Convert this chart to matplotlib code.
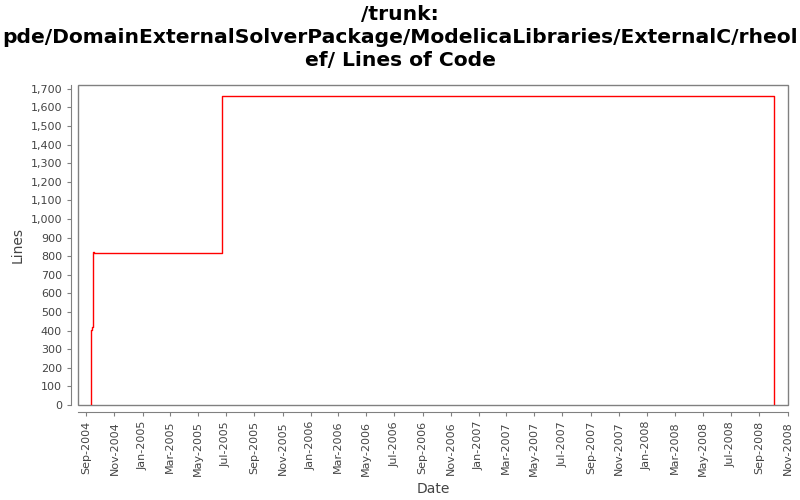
import matplotlib
matplotlib.use("Agg")
import matplotlib.pyplot as plt
import matplotlib.dates as mdates
from matplotlib.patches import Rectangle
from matplotlib.ticker import FuncFormatter
from datetime import datetime

# step data (value holds until the next date)
dates = [datetime(2004, 9, 12), datetime(2004, 9, 12), datetime(2004, 9, 14),
         datetime(2004, 9, 16), datetime(2004, 9, 17), datetime(2005, 6, 22),
         datetime(2008, 10, 3), datetime(2008, 10, 3)]
lines = [0, 405, 420, 825, 815, 1660, 0, 0]

x_ticks = [datetime(y, m, 1) for y in range(2004, 2009) for m in (1, 3, 5, 7, 9, 11)
           if datetime(2004, 9, 1) <= datetime(y, m, 1) <= datetime(2008, 11, 1)]
y_ticks = list(range(0, 1701, 100))

fig = plt.figure(figsize=(8, 5), dpi=100)
ax = fig.add_axes([0.0975, 0.19, 0.8875, 0.64])

ax.step(dates, lines, where="post", color="red", linewidth=1)

ax.set_xlim(datetime(2004, 8, 14), datetime(2008, 11, 2))
ax.set_ylim(0, 1720)
ax.set_xticks(x_ticks)
ax.xaxis.set_major_formatter(mdates.DateFormatter("%b-%Y"))
ax.set_yticks(y_ticks)
ax.yaxis.set_major_formatter(FuncFormatter(lambda v, p: f"{int(v):,}"))

grey = "#808080"
for s in ("left", "bottom"):
    ax.spines[s].set_position(("outward", 5))
    ax.spines[s].set_color(grey)
for s in ("top", "right"):
    ax.spines[s].set_visible(False)
ax.add_patch(Rectangle((0, 0), 1, 1, transform=ax.transAxes, fill=False,
                       edgecolor=grey, linewidth=1, clip_on=False))

ax.tick_params(axis="both", colors=grey, labelcolor="#444444", labelsize=8, length=3)
plt.setp(ax.get_xticklabels(), rotation=90)

ax.set_xlabel("Date", fontsize=10, color="#444444")
ax.set_ylabel("Lines", fontsize=10, color="#444444")
fig.suptitle("/trunk:\npde/DomainExternalSolverPackage/ModelicaLibraries/ExternalC/rheol\nef/ Lines of Code",
             fontsize=14.6, fontweight="bold", y=0.99, va="top", linespacing=1.25)

fig.savefig("out.png", dpi=100)
